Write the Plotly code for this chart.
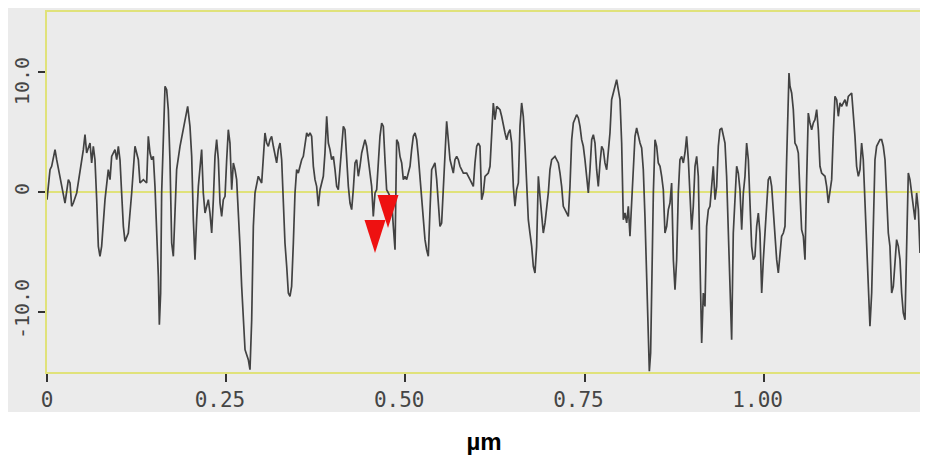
import plotly.graph_objects as go

# Profile position (µm) and height (nm)
x_um = [
    0.0000, 0.0042, 0.0065, 0.0112, 0.0135, 0.0181, 0.0228, 0.0251, 0.0298, 0.0321,
    0.0344, 0.0367, 0.0414, 0.0460, 0.0507, 0.0530, 0.0553, 0.0600, 0.0623, 0.0646,
    0.0669, 0.0693, 0.0716, 0.0739, 0.0762, 0.0809, 0.0832, 0.0855, 0.0879, 0.0902,
    0.0948, 0.0972, 0.0995, 0.1018, 0.1041, 0.1065, 0.1088, 0.1134, 0.1181, 0.1227,
    0.1274, 0.1297, 0.1344, 0.1390, 0.1413, 0.1437, 0.1460, 0.1483, 0.1506, 0.1530,
    0.1553, 0.1567, 0.1585, 0.1599, 0.1622, 0.1646, 0.1669, 0.1692, 0.1715, 0.1739,
    0.1762, 0.1785, 0.1808, 0.1855, 0.1901,
    0.1925, 0.1962, 0.1994, 0.2018, 0.2041, 0.2064, 0.2087, 0.2111, 0.2157, 0.2180,
    0.2204, 0.2250, 0.2273, 0.2297, 0.2320, 0.2343, 0.2366, 0.2390, 0.2413, 0.2436,
    0.2459, 0.2483, 0.2506, 0.2529, 0.2552, 0.2576, 0.2599, 0.2622, 0.2645, 0.2669,
    0.2692, 0.2715, 0.2738, 0.2762, 0.2808, 0.2831, 0.2855, 0.2878, 0.2901, 0.2924,
    0.2947, 0.2994, 0.3017, 0.3040, 0.3064, 0.3087, 0.3110, 0.3133, 0.3157, 0.3180,
    0.3203, 0.3226, 0.3250, 0.3273, 0.3296, 0.3319, 0.3343, 0.3366, 0.3389, 0.3412,
    0.3436, 0.3459, 0.3482, 0.3505, 0.3529, 0.3552, 0.3575, 0.3598, 0.3622, 0.3645,
    0.3668, 0.3691, 0.3715, 0.3738, 0.3761, 0.3784, 0.3808, 0.3831, 0.3854, 0.3877,
    0.3901, 0.3924, 0.3947,
    0.3970, 0.3994, 0.4017, 0.4040, 0.4063, 0.4086, 0.4110, 0.4133, 0.4156, 0.4180,
    0.4203, 0.4226, 0.4249, 0.4272, 0.4296, 0.4319, 0.4342, 0.4365, 0.4389, 0.4412,
    0.4435, 0.4458, 0.4482, 0.4505, 0.4528, 0.4551, 0.4575, 0.4598, 0.4621, 0.4644,
    0.4668, 0.4691, 0.4714, 0.4737, 0.4761, 0.4784, 0.4807, 0.4830, 0.4854, 0.4877,
    0.4900, 0.4923, 0.4947, 0.4970, 0.4993, 0.5016, 0.5040, 0.5063, 0.5086, 0.5109,
    0.5133, 0.5156, 0.5179, 0.5202, 0.5226, 0.5249, 0.5272, 0.5295, 0.5318, 0.5342,
    0.5365, 0.5388, 0.5411, 0.5435, 0.5458, 0.5481, 0.5504, 0.5528, 0.5551, 0.5574,
    0.5597, 0.5621, 0.5644, 0.5667, 0.5690, 0.5714, 0.5737, 0.5760, 0.5807, 0.5853,
    0.5900, 0.5946, 0.5969,
    0.5993, 0.6016, 0.6039, 0.6062, 0.6086, 0.6109, 0.6155, 0.6179, 0.6202, 0.6225,
    0.6248, 0.6272, 0.6318, 0.6341, 0.6388, 0.6411, 0.6434, 0.6457, 0.6481, 0.6504,
    0.6527, 0.6550, 0.6574, 0.6597, 0.6620, 0.6643, 0.6667, 0.6690, 0.6713, 0.6736,
    0.6760, 0.6783, 0.6806, 0.6829, 0.6853, 0.6876, 0.6899, 0.6922, 0.6946, 0.6969,
    0.6992, 0.7015, 0.7039, 0.7085, 0.7132, 0.7155, 0.7178, 0.7201, 0.7248, 0.7271,
    0.7294, 0.7318, 0.7341, 0.7387, 0.7411, 0.7434, 0.7457, 0.7480, 0.7503, 0.7527,
    0.7550, 0.7573, 0.7597, 0.7620, 0.7643, 0.7666, 0.7689, 0.7713, 0.7736, 0.7759,
    0.7782, 0.7806, 0.7829, 0.7852, 0.7875, 0.7899, 0.7922, 0.7945, 0.7968, 0.7992,
    0.8015, 0.8038,
    0.8061, 0.8085, 0.8108, 0.8131, 0.8154, 0.8178, 0.8201, 0.8224, 0.8247, 0.8271,
    0.8294, 0.8317, 0.8340, 0.8364, 0.8387, 0.8401, 0.8419, 0.8433, 0.8457, 0.8480,
    0.8503, 0.8526, 0.8550, 0.8573, 0.8596, 0.8619, 0.8643, 0.8666, 0.8689, 0.8712,
    0.8736, 0.8759, 0.8782, 0.8805, 0.8828, 0.8852, 0.8875, 0.8898, 0.8921, 0.8945,
    0.8968, 0.8991, 0.9014, 0.9038, 0.9061, 0.9084, 0.9107, 0.9131, 0.9154, 0.9177,
    0.9200, 0.9224, 0.9247, 0.9270, 0.9293, 0.9317, 0.9340, 0.9363, 0.9386, 0.9410,
    0.9433, 0.9456, 0.9479, 0.9503, 0.9526, 0.9549, 0.9572, 0.9596, 0.9619, 0.9642,
    0.9665, 0.9689, 0.9712, 0.9735, 0.9758, 0.9782, 0.9805, 0.9828, 0.9851, 0.9874,
    0.9898, 0.9921, 0.9944, 0.9968, 0.9991, 1.0014, 1.0037, 1.0060,
    1.0084, 1.0107, 1.0130, 1.0153, 1.0177, 1.0200, 1.0223, 1.0246, 1.0270, 1.0293,
    1.0316, 1.0339, 1.0349, 1.0363, 1.0386, 1.0409, 1.0432, 1.0456, 1.0479, 1.0502,
    1.0525, 1.0549, 1.0572, 1.0595, 1.0618, 1.0642, 1.0665, 1.0688, 1.0711, 1.0735,
    1.0758, 1.0781, 1.0804, 1.0851, 1.0874, 1.0897, 1.0921, 1.0944, 1.0967, 1.0990,
    1.1014, 1.1037, 1.1060, 1.1083, 1.1107, 1.1130, 1.1153, 1.1176, 1.1223, 1.1246,
    1.1269, 1.1292, 1.1316, 1.1339, 1.1362, 1.1385, 1.1409, 1.1432, 1.1455, 1.1478,
    1.1502, 1.1525, 1.1548, 1.1571, 1.1595, 1.1618, 1.1641, 1.1664, 1.1688, 1.1711,
    1.1734, 1.1757, 1.1781, 1.1804, 1.1827, 1.1850, 1.1874, 1.1897, 1.1920, 1.1943,
    1.1967, 1.1990, 1.2013, 1.2036, 1.2060, 1.2083, 1.2106, 1.2129, 1.2153, 1.2176,
]

height_nm = [
    -0.64, 1.86, 2.14, 3.53, 2.69, 1.31, -0.08, -0.92, 1.03, 0.75,
    -1.19, -0.92, -0.08, 1.58, 3.53, 4.78, 3.25, 4.08, 2.42, 3.81,
    2.69, -0.64, -4.53, -5.36, -4.53, -0.64, 0.47, 1.86, 1.03, 2.97,
    3.53, 2.69, 3.81, 2.69, -0.08, -2.86, -4.11, -3.42, -0.08, 3.81,
    2.69, 0.75, 1.03, 0.75, 4.64, 3.25, 2.69, 2.97, 0.47, -2.86,
    -7.03, -11.06, -8.42, -0.08, 4.08, 8.81, 8.53, 6.86, 2.69, -4.25,
    -5.36, -2.31, 1.86, 3.81, 5.19,
    6.03, 7.14, 5.47, 2.97, -2.31, -5.64, -2.31, 0.47, 3.53, -0.08,
    -1.75, -0.64, -1.75, -3.42, -0.64, 2.97, 4.36, 2.69, -0.92, -2.03,
    -0.64, -0.36, 2.69, 5.19, 4.08, 0.19, 2.42, 1.86, 1.03, -1.47,
    -4.53, -7.86, -10.64, -13.14, -13.97, -14.81, -10.64, -2.86, -0.08, 0.75,
    1.31, 0.75, 3.25, 4.92, 4.08, 3.81, 4.36, 4.64, 3.81, 2.97,
    2.42, 3.53, 4.08, 2.69, -1.47, -4.25, -6.19, -8.42, -8.69, -7.86,
    -4.25, -0.08, 1.86, 1.58, 2.14, 2.69, 2.97, 3.81, 4.92, 4.64,
    4.92, 4.64, 2.14, 1.03, 0.47, -1.19, 0.19, 0.75, 1.31, 3.25,
    6.31, 4.08, 3.53,
    2.69, 2.97, 1.86, 0.47, 0.19, 2.14, 3.81, 5.47, 5.19, 2.69,
    0.47, -0.92, -1.47, 0.19, 2.42, 2.69, 1.31, 2.14, 3.25, 3.81,
    4.36, 3.81, 2.69, 1.31, 0.47, -2.03, -0.08, 0.19, 2.69, 4.64,
    5.75, 5.47, 2.69, 0.19, -0.08, -0.36, -0.64, -2.86, -4.81, 4.36,
    4.08, 2.97, 2.42, 1.03, 1.31, 1.03, 1.58, 2.14, 3.53, 4.64,
    4.92, 4.36, 2.97, 1.31, -0.64, -2.31, -3.97, -4.81, -5.36, -1.47,
    1.86, 2.14, 2.42, 1.03, -1.47, -2.86, -2.58, 0.75, 3.25, 5.89,
    4.36, 2.69, 2.14, 1.58, 2.69, 2.97, 2.69, 2.14, 1.58, 1.58,
    1.03, 0.47, 2.42,
    3.81, 4.08, 3.81, -0.64, -0.08, 1.31, 1.58, 2.14, 4.64, 7.42,
    6.03, 7.14, 6.86, 6.31, 4.92, 4.36, 4.92, 5.19, 4.08, 0.47,
    -1.19, 0.19, 0.75, 5.47, 7.42, 6.31, 3.81, 1.03, -2.31, -3.42,
    -4.53, -6.19, -6.75, -4.53, 1.31, -0.36, -2.31, -3.42, -2.58, -1.47,
    -0.08, 1.86, 2.69, 2.97, 2.42, 1.58, 0.47, -1.19, -1.75, -2.03,
    0.47, 4.36, 5.75, 6.44, 6.17, 5.47, 4.36, 3.81, 2.69, 1.31,
    -0.08, 1.86, 4.36, 4.78, 4.08, 1.86, 0.47, 2.42, 3.81, 3.53,
    2.42, 1.86, 3.25, 4.92, 7.69, 8.25, 8.81, 9.36, 8.53, 7.69,
    4.08, -2.31,
    -1.75, -2.58, -1.19, -3.69, -0.92, 2.42, 4.64, 5.33, 4.64, 4.08,
    3.67, 1.86, -2.03, -7.86, -13.42, -14.94, -13.42, -7.03, -0.08, 4.36,
    3.81, 2.42, 2.14, 1.31, 0.19, -3.42, -2.86, -1.47, -0.92, 0.75,
    -5.64, -8.14, -5.64, -0.08, 2.69, 2.97, 2.42, 3.25, 4.64, 2.69,
    -0.08, -3.14, -1.19, 2.14, 2.97, 1.31, -5.64, -12.58, -8.42, -9.53,
    -2.86, -1.47, -1.19, 0.47, 2.14, -0.64, 0.47, 3.81, 5.19, 5.33,
    4.64, 4.08, 1.31, -2.86, -7.03, -12.31, -3.42, -0.08, 2.14, 1.58,
    0.19, -3.14, -0.08, 1.31, 4.08, 2.69, -1.47, -4.53, -5.64, -5.36,
    -2.86, -1.75, -3.42, -8.42, -5.64, -2.86, -1.19, 1.03,
    1.31, 0.47, -1.47, -4.25, -5.64, -6.75, -5.36, -3.69, -3.42, -2.86,
    2.69, 9.36, 9.92, 8.81, 8.25, 6.86, 4.08, 3.81, 3.25, -0.08,
    -3.14, -3.69, -5.64, 1.03, 6.58, 5.75, 5.19, 5.75, 6.03, 6.86,
    5.19, 2.14, 1.58, 1.31, 0.47, -0.92, 0.19, 1.03, 4.92, 7.97,
    7.69, 6.31, 7.42, 7.14, 7.42, 7.69, 7.14, 7.97, 8.25, 6.58,
    4.64, 2.14, 1.31, 1.86, 4.08, 2.69, -0.64, -4.25, -8.42, -11.19,
    -8.42, -2.86, 2.69, 3.81, 4.08, 4.36, 4.36, 3.81, 2.69, -0.08,
    -3.42, -4.53, -8.42, -7.86, -5.36, -3.97, -4.53, -5.64, -8.42, -10.08,
    -10.64, -4.53, 1.58, 1.03, -0.08, -1.47, -2.31, -0.08, -1.47, -5.08,
]

# Section cursor markers (tip position)
marker_x = [0.4575, 0.4756]
marker_y = [-5.08, -3.00]

x_tickvals = [0, 0.25, 0.50, 0.75, 1.00]
x_ticktext = ["0", "0.25\u00a0", "0.50\u00a0", "0.75\u00a0", "1.00\u00a0"]
y_tickvals = [-10, 0, 10]
y_ticktext = ["-10.0", "0", "10.0\u00a0\u00a0"]

YELLOW = "#e0e27a"
PANEL = "#ebebeb"
XTICKFONT = dict(family="DejaVu Sans Mono", size=21, color="#454545")
YTICKFONT = dict(family="DejaVu Sans Mono", size=20, color="#454545")

fig = go.Figure()
fig.add_trace(go.Scatter(
    x=x_um, y=height_nm, mode="lines",
    line=dict(color="#424242", width=1.7),
    hoverinfo="skip", showlegend=False,
))

shapes = [
    dict(type="rect", xref="paper", yref="paper",
         x0=-0.047, x1=1.01, y0=-0.111, y1=1.03,
         fillcolor=PANEL, line=dict(width=0), layer="below"),
]
for mx, my in zip(marker_x, marker_y):
    shapes.append(dict(
        type="path", xref="x", yref="y",
        xsizemode="pixel", ysizemode="pixel",
        xanchor=mx, yanchor=my,
        path="M -10.5 33 L 10.5 33 L 0 0 Z",
        fillcolor="#ee1111", line=dict(width=0), layer="above",
    ))

# the page body adds an 8px offset, so the figure is sized to the visible area
fig.update_layout(
    width=920, height=448, autosize=False,
    margin=dict(l=39, r=7, t=4, b=84, autoexpand=False),
    paper_bgcolor="white", plot_bgcolor=PANEL,
    shapes=shapes,
    xaxis=dict(
        range=[0, 1.219], tickvals=x_tickvals, ticktext=x_ticktext,
        ticks="outside", ticklen=8, tickwidth=1.5, tickcolor="#333333",
        tickfont=XTICKFONT, showgrid=False, zeroline=False, automargin=False,
        showline=True, mirror=True, linecolor=YELLOW, linewidth=2,
        title=dict(text="µm", font=dict(family="Liberation Sans", size=24,
                                          color="black", weight=700), standoff=22),
    ),
    yaxis=dict(
        range=[-15, 15], tickvals=y_tickvals, ticktext=y_ticktext,
        tickangle=-90, ticks="outside", ticklen=7, tickwidth=1.5, tickcolor="#333333",
        tickfont=YTICKFONT, showgrid=False, automargin=False, ticklabelstandoff=1,
        zeroline=True, zerolinecolor=YELLOW, zerolinewidth=2,
        showline=True, mirror=True, linecolor=YELLOW, linewidth=2,
    ),
)

fig.write_html("out.html")
